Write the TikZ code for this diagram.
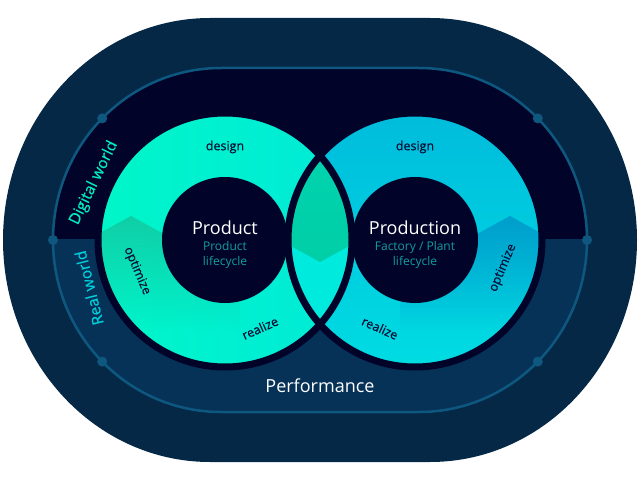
\documentclass[tikz,border=0pt]{standalone}
\usepackage{fontspec}
\setmainfont{Open Sans}
\newfontfamily\heavyfont[FakeBold=0.5]{Open Sans}
\definecolor{outerband}{RGB}{4,40,70}
\definecolor{trackline}{RGB}{14,88,128}
\definecolor{digitalbg}{RGB}{2,3,40}
\definecolor{realbg}{RGB}{6,50,88}
\definecolor{productA}{RGB}{0,246,200}
\definecolor{productB}{RGB}{0,234,216}
\definecolor{productdark}{RGB}{16,206,166}
\definecolor{productionA}{RGB}{0,188,220}
\definecolor{productionB}{RGB}{0,220,226}
\definecolor{productiondark}{RGB}{0,158,204}
\definecolor{lensA}{RGB}{0,214,180}
\definecolor{lensB}{RGB}{0,206,166}
\definecolor{lenslow}{RGB}{0,234,222}
\definecolor{labeltext}{RGB}{6,16,56}
\definecolor{subtext}{RGB}{16,158,160}
\definecolor{digitaltext}{RGB}{0,236,190}
\definecolor{realtext}{RGB}{0,206,218}
\usetikzlibrary{positioning,fadings}
\tikzfading[name=chevronfade, top color=transparent!0, middle color=transparent!35, bottom color=transparent!100]
\begin{document}
\begin{tikzpicture}[x=1pt, y=1pt,
    dot/.style={circle, fill=trackline, minimum size=10pt, inner sep=0pt},
    core/.style={circle, fill=digitalbg, minimum size=126pt, inner sep=0pt},
    cyclelbl/.style={text=labeltext, font=\heavyfont\fontsize{12.5}{15}\selectfont, inner sep=1pt},
    title/.style={text=white, font=\fontsize{18}{22}\selectfont, inner sep=1pt},
    subtitle/.style={text=subtext, font=\fontsize{12}{15}\selectfont, align=center, inner sep=1pt},
    world/.style={font=\heavyfont\fontsize{15.5}{18}\selectfont, inner sep=1pt}
  ]
  \useasboundingbox (0,0) rectangle (640,480);
  % outer band and track
  \fill[outerband] (210,462) -- (430,462) arc[start angle=90, end angle=-90, x radius=207, y radius=222]
    -- (210,18) arc[start angle=270, end angle=90, x radius=207, y radius=222] -- cycle;
  \fill[digitalbg] (221,412) -- (419,412) arc[start angle=90, end angle=-90, x radius=168, y radius=172]
    -- (221,68) arc[start angle=270, end angle=90, x radius=168, y radius=172] -- cycle;
  \begin{scope}
    \clip (0,0) rectangle (640,240);
    \fill[realbg] (221,412) -- (419,412) arc[start angle=90, end angle=-90, x radius=168, y radius=172]
      -- (221,68) arc[start angle=270, end angle=90, x radius=168, y radius=172] -- cycle;
  \end{scope}
  \draw[trackline, line width=2.5pt] (221,412) -- (419,412) arc[start angle=90, end angle=-90, x radius=168, y radius=172]
    -- (221,68) arc[start angle=270, end angle=90, x radius=168, y radius=172] -- cycle;
  \foreach \a in {135,180,225}
    \node[dot] (dotl\a) at ([shift={(221,240)}]\a:168 and 172) {};
  \foreach \a in {45,0,-45}
    \node[dot] (dotr\a) at ([shift={(419,240)}]\a:168 and 172) {};
  % the two cycles
  \shade[left color=productA, right color=productB] (225,240) circle[radius=127];
  \shade[top color=productionA, bottom color=productionB] (415,240) circle[radius=127];
  \begin{scope}
    \clip (225,240) circle[radius=127];
    \fill[productdark, path fading=chevronfade] (80,236) -- (131,264) -- (240,204) -- (240,150) -- (80,150) -- cycle;
  \end{scope}
  \begin{scope}
    \clip (415,240) circle[radius=127];
    \fill[productiondark, path fading=chevronfade] (400,204) -- (510,264) -- (560,236) -- (560,150) -- (400,150) -- cycle;
  \end{scope}
  \begin{scope}
    \clip (225,240) circle[radius=127];
    \clip (415,240) circle[radius=127];
    \fill[lenslow] (280,100) rectangle (360,380);
    \shade[top color=lensA, bottom color=lensB] (280,380) -- (280,240) -- (320,218) -- (360,240) -- (360,380) -- cycle;
  \end{scope}
  \draw[digitalbg, line width=7pt] (225,240) circle[radius=127];
  \draw[digitalbg, line width=7pt] (415,240) circle[radius=127];
  \node[core] (product) at (225,240) {};
  \node[core] (production) at (415,240) {};
  % texts
  \node[title] (producttitle) at (225,252) {Product};
  \node[subtitle] (productsub) at (225,225) {Product\\lifecycle};
  \node[title] (productiontitle) at (415,252) {Production};
  \node[subtitle] (productionsub) at (415,225) {Factory / Plant\\lifecycle};
  \node[cyclelbl] (designl) at (225,333) {design};
  \node[cyclelbl] (designr) at (415,333) {design};
  \node[cyclelbl, rotate=24] (realizel) at (260,152) {realize};
  \node[cyclelbl, rotate=-24] (realizer) at (380,152) {realize};
  \node[cyclelbl, rotate=-67] (optimizel) at (137,209) {optimize};
  \node[cyclelbl, rotate=67] (optimizer) at (503,212) {optimize};
  \node[world, text=digitaltext, rotate=64] (digital) at (94,297) {Digital world};
  \node[world, text=realtext, rotate=104] (real) at (89,192) {Real world};
  \node[title] (performance) at (320,94) {Performance};
\end{tikzpicture}
\end{document}
